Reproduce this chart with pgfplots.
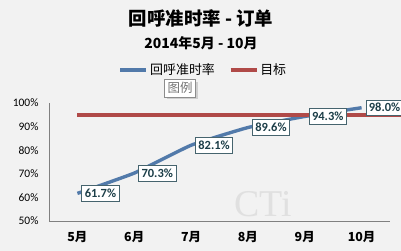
\documentclass[border=0pt]{standalone}
\usepackage{fontspec}
\setmainfont{Carlito}
\newfontfamily\cjk{Noto Sans CJK SC}
\newfontfamily\wmfont{Liberation Serif}
\usepackage{pgfplots}
\pgfplotsset{compat=1.18}
\usetikzlibrary{shadows}
\definecolor{bgc}{RGB}{242,242,242}
\definecolor{blueL}{RGB}{82,122,170}
\definecolor{redL}{RGB}{176,74,72}
\definecolor{lblT}{RGB}{28,62,72}
\definecolor{lblB}{RGB}{70,100,110}
\definecolor{axc}{RGB}{128,128,128}
\begin{document}
\begin{tikzpicture}[x=1bp,y=1bp]
\fill[bgc] (-49bp,-30bp) rectangle (352bp,221bp);
\node[text=black!12, font=\wmfont\fontsize{38}{38}\selectfont, inner sep=0pt] at (214bp,17bp) {CTi};
\begin{axis}[
  at={(0,0)}, anchor=south west,
  scale only axis, width=341bp, height=118bp,
  xmin=4.5, xmax=10.5, ymin=50, ymax=100,
  xtick={5,6,7,8,9,10},
  xticklabels={5月,6月,7月,8月,9月,10月},
  xticklabel style={font=\cjk\bfseries\fontsize{12.5}{13}\selectfont, yshift=-7bp},
  ytick={50,60,70,80,90,100},
  yticklabel={\pgfmathprintnumber{\tick}\%},
  /pgf/number format/assume math mode=true,
  yticklabel style={font=\fontsize{11.5}{12}\selectfont, xshift=-7bp},
  major tick length=0pt,
  axis line style={draw=axc},
  axis x line*=bottom, axis y line*=left,
  clip=false,
  legend columns=2,
  legend style={draw=none, fill=none, at={(0.453,1.28)}, anchor=center,
    font=\cjk\fontsize{13}{13}\selectfont,
    /tikz/every even column/.append style={column sep=12bp}},
  legend image code/.code={\draw[#1] (0bp,0bp) -- (26bp,0bp);},
]
\addplot[blueL, line width=3.4bp, smooth, tension=0.25,
  nodes near coords={\pgfmathprintnumber[fixed,precision=1,fixed zerofill]{\pgfplotspointmeta}\%},
  point meta=explicit,
  nodes near coords style={anchor=west, xshift=4bp, draw=lblB, fill=white, text=lblT,
    inner xsep=3bp, inner ysep=3.5bp, line width=0.7bp, font=\bfseries\fontsize{12.5}{13}\selectfont}]
  coordinates {(5,61.7)[61.7] (6,70.3)[70.3] (7,82.1)[82.1] (8,89.6)[89.6] (9,94.3)[94.3] (10,98.0)[98.0]};
\addlegendentry{回呼准时率}
\addplot[redL, line width=3.4bp, on layer=axis background]
  coordinates {(5,95) (6,95) (7,95) (8,95) (9,95) (10,95) (10.7,95)};
\addlegendentry{目标}
\end{axis}
\node[font=\cjk\bfseries\fontsize{18.5}{19}\selectfont] at (152bp,203bp) {回呼准时率 - 订单};
\node[font=\cjk\bfseries\fontsize{14}{15}\selectfont] at (152bp,178bp) {2014年5月 - 10月};
\node[draw=black!45, fill=white, drop shadow={opacity=0.3}, text=black!55, inner sep=3bp,
  font=\cjk\fontsize{12.5}{13}\selectfont] at (131bp,133bp) {图例};
\pgfresetboundingbox
\path (-49bp,-30bp) rectangle (352bp,221bp);
\end{tikzpicture}
\end{document}
